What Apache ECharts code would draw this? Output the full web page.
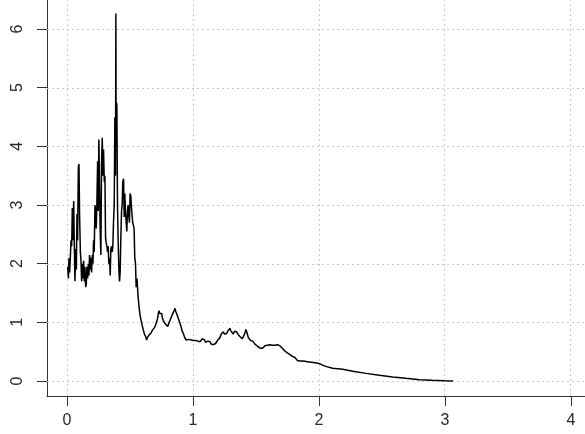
<!DOCTYPE html>
<html><head><meta charset="utf-8">
<script src="https://cdn.jsdelivr.net/npm/echarts@6/dist/echarts.min.js"></script>
<style>html,body{margin:0;padding:0;background:#fff}#c{width:585px;height:434px}</style>
</head><body><div id="c"></div>
<script>
const xValues = [0.005,0.011,0.016,0.021,0.026,0.032,0.037,0.042,0.047,0.053,0.058,0.063,0.069,0.074,0.079,0.084,0.090,0.095,0.100,0.106,0.111,0.116,0.121,0.127,0.132,0.137,0.142,0.148,0.153,0.158,0.164,0.169,0.174,0.179,0.185,0.190,0.195,0.201,0.206,0.211,0.216,0.222,0.227,0.232,0.237,0.243,0.248,0.253,0.259,0.264,0.269,0.274,0.280,0.285,0.290,0.296,0.301,0.306,0.311,0.317,0.322,0.327,0.332,0.338,0.343,0.348,0.354,0.359,0.364,0.369,0.375,0.380,0.385,0.388,0.390,0.393,0.396,0.401,0.406,0.412,0.417,0.422,0.427,0.433,0.438,0.443,0.449,0.454,0.459,0.464,0.470,0.475,0.480,0.485,0.491,0.496,0.501,0.507,0.512,0.517,0.522,0.528,0.533,0.538,0.544,0.549,
0.556,0.564,0.572,0.580,0.588,0.597,0.606,0.615,0.624,0.633,0.638,0.645,0.650,0.655,0.659,0.664,0.668,0.672,0.676,0.681,0.685,0.690,0.694,0.699,0.703,0.708,0.712,0.717,0.722,0.726,0.731,0.736,0.741,0.746,0.752,0.757,0.762,0.767,0.773,0.779,0.786,0.793,0.800,0.806,0.813,0.819,0.826,0.834,0.842,0.850,0.858,0.863,0.868,0.874,0.879,0.885,0.892,0.899,0.906,0.913,0.924,0.935,0.945,0.955,0.965,0.977,0.987,0.997,1.003,1.013,1.022,1.03,1.04,1.048,1.056,1.066,1.075,1.083,1.092,1.10,1.109,1.118,1.127,1.135,1.145,1.154,1.162,1.172,1.18,1.188,1.198,1.207,1.215,1.225,1.233,1.241,1.25,1.26,1.268,1.277,1.285,1.294,1.30,1.31,1.32,1.33,1.34,1.347,1.356,1.365,1.373,1.383,1.392,1.40,1.41,1.421,1.43,1.44,1.45,1.458,1.466,1.475,1.484,1.492,1.50,1.51,1.52,1.533,1.545,1.553,1.562,1.572,1.582,1.592,1.602,1.612,1.622,1.632,1.642,1.652,1.662,1.672,1.681,1.691,1.70,1.71,1.72,1.731,1.74,1.75,1.76,1.771,1.78,1.79,1.80,1.81,1.82,1.83,1.85,1.87,1.89,1.91,1.94,1.97,2.00,2.03,2.06,2.11,2.19,2.27,2.375,2.48,2.586,2.69,2.797,2.90,3.0,3.066];
const yValues = [1.95,1.75,2.1,1.85,2.1,2.4,2.3,2.95,2.4,3.07,2.3,1.7,2.25,1.9,2.85,2.4,3.65,3.7,2.8,2.2,2.05,1.7,2.0,1.75,2.05,1.7,1.95,1.6,1.65,1.95,1.75,2.0,1.8,2.15,1.9,2.1,1.85,2.15,2.0,2.4,2.2,3.0,2.9,2.6,3.0,3.75,2.9,4.12,3.2,2.5,2.15,3.7,4.15,3.5,3.95,3.4,3.5,2.45,2.35,2.3,2.2,2.3,2.0,2.1,1.8,2.25,2.3,2.2,2.3,2.7,3.0,4.5,3.5,6.27,4.0,4.75,4.7,3.0,2.4,1.9,1.7,1.85,2.4,2.9,3.0,3.4,3.45,2.8,3.2,2.9,2.7,2.55,2.9,3.0,2.8,2.7,3.2,3.15,2.95,2.95,2.7,2.65,2.6,2.1,2.0,1.6,
1.75,1.45,1.27,1.12,1.04,0.95,0.87,0.80,0.76,0.70,0.74,0.72,0.78,0.76,0.81,0.78,0.82,0.80,0.86,0.84,0.87,0.85,0.91,0.90,0.95,0.93,0.98,1.05,1.1,1.16,1.2,1.15,1.18,1.12,1.15,1.08,1.06,1.02,1.04,0.98,1.0,0.95,0.93,0.97,1.0,1.04,1.07,1.12,1.15,1.2,1.24,1.19,1.18,1.13,1.12,1.06,1.02,0.97,0.93,0.86,0.81,0.74,0.70,0.73,0.71,0.74,0.70,0.72,0.69,0.72,0.69,0.72,0.68,0.70,0.67,0.70,0.72,0.69,0.70,0.66,0.65,0.68,0.66,0.67,0.63,0.64,0.62,0.65,0.64,0.67,0.70,0.72,0.74,0.80,0.82,0.84,0.80,0.83,0.81,0.85,0.83,0.90,0.86,0.84,0.80,0.85,0.82,0.84,0.80,0.79,0.76,0.75,0.72,0.74,0.80,0.88,0.82,0.74,0.71,0.69,0.67,0.68,0.65,0.63,0.62,0.60,0.58,0.56,0.58,0.56,0.59,0.60,0.58,0.61,0.59,0.62,0.60,0.61,0.59,0.61,0.60,0.62,0.60,0.60,0.58,0.56,0.53,0.51,0.49,0.48,0.47,0.45,0.44,0.42,0.41,0.40,0.37,0.35,0.34,0.34,0.335,0.33,0.32,0.31,0.30,0.27,0.245,0.216,0.2,0.165,0.13,0.097,0.068,0.045,0.023,0.011,0.005,0.002];
const xTicks = [0,1,2,3,4];
const yTicks = [0,1,2,3,4,5,6];

const chart = echarts.init(document.getElementById('c'), null, {renderer:'canvas'});
const seriesData = xValues.map((x,i)=>[x,yValues[i]]);
const labelFont = {color:'#2a2a2a', fontSize:16, fontFamily:'Liberation Sans, Arial, sans-serif'};
const axisColor = '#333';
const option = {
  animation:false,
  grid:[{left:47,right:0,top:0,bottom:38},{left:67,right:14,top:29,bottom:53}],
  xAxis:[
    {gridIndex:0,type:'value',min:-0.159,max:4.114,
     axisLine:{show:true,onZero:false,lineStyle:{color:axisColor,width:1}},
     axisTick:{show:false},axisLabel:{show:false},splitLine:{show:false}},
    {gridIndex:1,type:'value',min:0,max:4,interval:1,offset:15,
     axisLine:{show:false,onZero:false},
     axisTick:{show:true,length:10,lineStyle:{color:axisColor,width:1}},
     axisLabel:Object.assign({margin:17,formatter:v=>String(v)},labelFont),
     splitLine:{show:false}}
  ],
  yAxis:[
    {gridIndex:0,type:'value',min:-0.256,max:6.5,
     axisLine:{show:true,onZero:false,lineStyle:{color:axisColor,width:1}},
     axisTick:{show:false},axisLabel:{show:false},splitLine:{show:false}},
    {gridIndex:1,type:'value',min:0,max:6,interval:1,offset:20,
     axisLine:{show:false,onZero:false},
     axisTick:{show:true,length:10,lineStyle:{color:axisColor,width:1}},
     axisLabel:Object.assign({margin:21,rotate:90,formatter:v=>String(v)},labelFont),
     splitLine:{show:false}}
  ],
  series:[{
    type:'line',xAxisIndex:0,yAxisIndex:0,data:seriesData,
    showSymbol:false,symbol:'none',silent:true,z:3,
    lineStyle:{color:'#000',width:1.5},
    markLine:{
      silent:true,symbol:['none','none'],label:{show:false},z:1,animation:false,
      lineStyle:{color:'#cccccc',width:1,type:[2,3]},
      emphasis:{disabled:true},
      data:xTicks.map(v=>({xAxis:v})).concat(yTicks.map(v=>({yAxis:v})))
    }
  }]
};
chart.setOption(option);
</script>
</body></html>
